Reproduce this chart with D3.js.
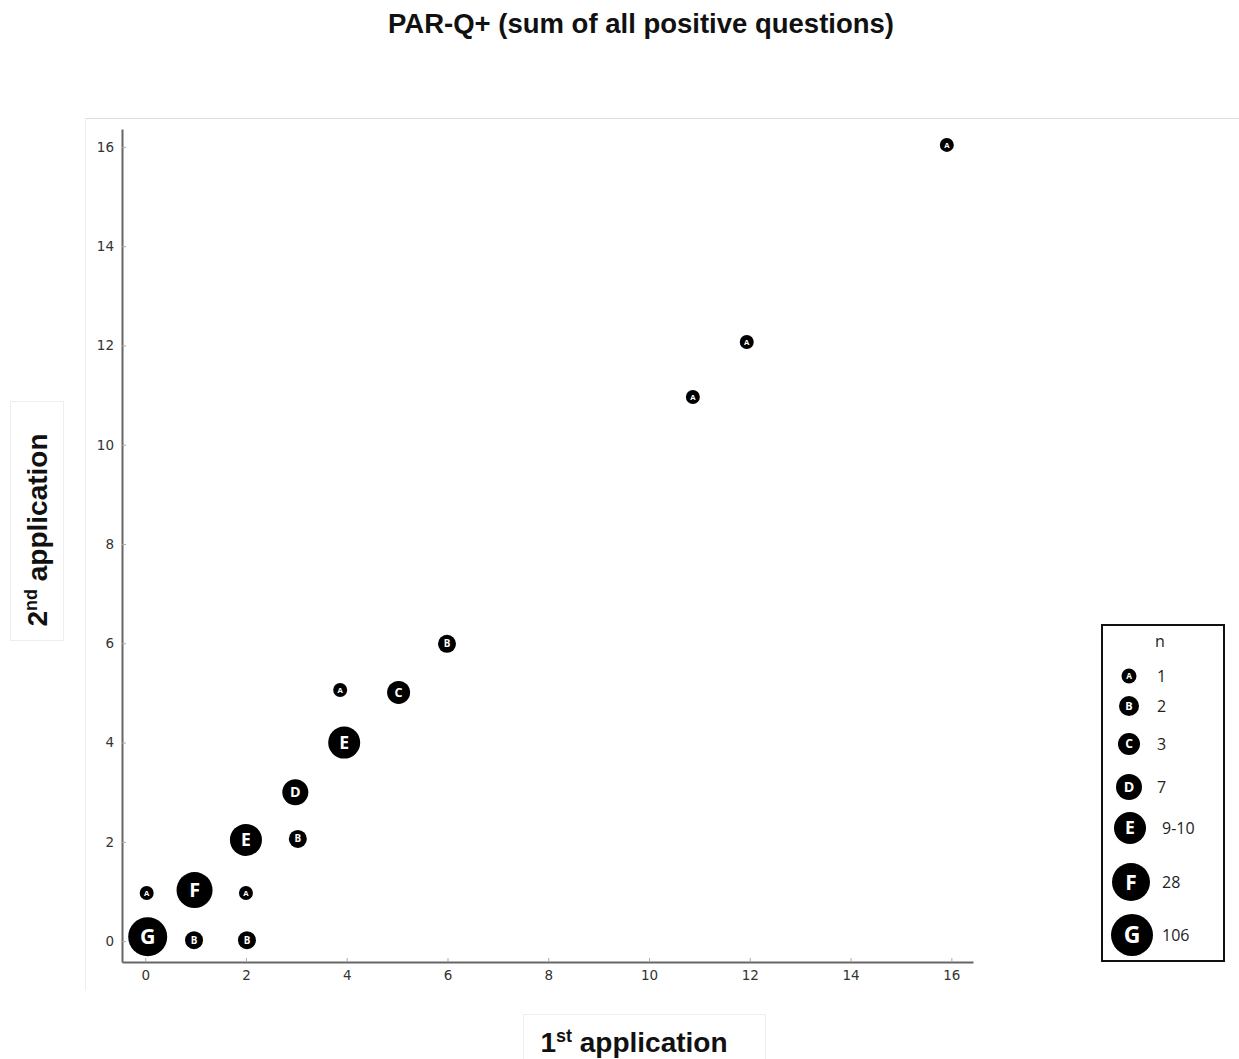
<!DOCTYPE html>
<html><head><meta charset="utf-8">
<script src="https://cdn.jsdelivr.net/npm/d3@7"></script>
<style>html,body{margin:0;padding:0;background:#fff;}</style>
</head><body>
<script>
// ---- data ----
const firstApplication  = [0.05, 0.97, 2.02, 0.03, 0.98, 2.0, 2.0, 3.03, 2.98, 3.95, 3.87, 5.03, 5.99, 10.87, 11.94, 15.91];
const secondApplication = [0.09, 0.02, 0.02, 0.97, 1.03, 0.97, 2.04, 2.06, 3.0, 4.0, 5.06, 5.01, 5.99, 10.96, 12.07, 16.04];
const pointGroups       = ['G','B','B','A','F','A','E','B','D','E','A','C','B','A','A','A'];
const legendGroups = ['A','B','C','D','E','F','G'];
const legendLabels = ['1','2','3','7','9-10','28','106'];
const tickValues = [0,2,4,6,8,10,12,14,16];

const W = 1239, H = 1059;
const svg = d3.select('body').append('svg').attr('width', W).attr('height', H)
  .style('font-family','"Liberation Sans", Arial, sans-serif');

// panel frame
svg.append('line').attr('x1',85).attr('y1',118.5).attr('x2',W).attr('y2',118.5).attr('stroke','#ddd');
svg.append('line').attr('x1',85.5).attr('y1',118).attr('x2',85.5).attr('y2',990).attr('stroke','#eee');

// title
svg.append('text').attr('x',641).attr('y',33).attr('text-anchor','middle')
  .attr('font-size',27.5).attr('font-weight','bold').attr('fill','#111')
  .text('PAR-Q+ (sum of all positive questions)');

// scales
const x = d3.scaleLinear().domain([-0.46, 16.43]).range([122, 973]);
const y = d3.scaleLinear().domain([-0.42, 16.36]).range([962, 129]);
const rPlot = d3.scaleOrdinal().domain(legendGroups).range([7, 9, 11.5, 13, 16, 18, 19.5]);
const rLeg  = d3.scaleOrdinal().domain(legendGroups).range([7.5, 10, 11, 13, 16, 19, 21]);
const fontFor = r => r * 1.1;

// axes
const xAxis = d3.axisBottom(x).tickValues(tickValues).tickSize(-4).tickPadding(8).tickSizeOuter(0);
const yAxis = d3.axisLeft(y).tickValues(tickValues).tickSize(-4).tickPadding(8).tickSizeOuter(0);
const gx = svg.append('g').attr('transform','translate(0,962)').call(xAxis);
const gy = svg.append('g').attr('transform','translate(122,0)').call(yAxis);
[gx, gy].forEach(g => {
  g.select('.domain').attr('stroke','#666').attr('stroke-width',2);
  g.selectAll('.tick line').attr('stroke','#aaa');
  g.selectAll('.tick text').attr('fill','#333').attr('font-size',13.5)
    .attr('font-family','"DejaVu Sans", Verdana, sans-serif');
});

// points
const pts = firstApplication.map((v,i)=>({x:v, y:secondApplication[i], g:pointGroups[i]}));
const pg = svg.append('g');
const node = pg.selectAll('g.pt').data(pts).join('g').attr('class','pt')
  .attr('transform', d => `translate(${x(d.x)},${y(d.y)})`);
node.append('circle').attr('r', d => rPlot(d.g)).attr('fill','#000');
node.append('text').attr('text-anchor','middle').attr('dy','0.36em')
  .attr('fill','#fff').attr('font-weight','bold')
  .attr('font-family','"Open Sans", "DejaVu Sans", sans-serif')
  .attr('font-size', d => fontFor(rPlot(d.g))).text(d => d.g);

// axis titles with boxes
svg.append('rect').attr('x',523.5).attr('y',1014.5).attr('width',242).attr('height',50)
  .attr('fill','#fff').attr('stroke','#eee');
const xt = svg.append('text').attr('x',634).attr('y',1052).attr('text-anchor','middle')
  .attr('font-size',28).attr('font-weight','bold').attr('fill','#111');
xt.append('tspan').text('1');
xt.append('tspan').attr('dy',-10).attr('font-size',18).text('st');
xt.append('tspan').attr('dy',10).text(' application');

svg.append('rect').attr('x',10.5).attr('y',401.5).attr('width',53).attr('height',239)
  .attr('fill','#fff').attr('stroke','#eee');
const yt = svg.append('text').attr('transform','translate(47,530) rotate(-90)').attr('text-anchor','middle')
  .attr('font-size',28).attr('font-weight','bold').attr('fill','#111');
yt.append('tspan').text('2');
yt.append('tspan').attr('dy',-10).attr('font-size',18).text('nd');
yt.append('tspan').attr('dy',10).text(' application');

// legend
svg.append('rect').attr('x',1102).attr('y',625).attr('width',122).attr('height',336)
  .attr('fill','#fff').attr('stroke','#111').attr('stroke-width',2);
svg.append('text').attr('x',1160).attr('y',647).attr('text-anchor','middle')
  .attr('font-size',16).attr('fill','#222').attr('font-family','"Open Sans", sans-serif').text('n');
const legYs = [676, 706, 744, 787, 828, 882, 935];
const legCx = [1129, 1129, 1129, 1129, 1130, 1131, 1132];
const legTx = [1157, 1157, 1157, 1157, 1162, 1162, 1162];
const lg = svg.append('g').selectAll('g').data(legendGroups).join('g')
  .attr('transform', (d,i) => `translate(${legCx[i]},${legYs[i]})`);
lg.append('circle').attr('r', d => rLeg(d)).attr('fill','#000');
lg.append('text').attr('text-anchor','middle').attr('dy','0.36em').attr('fill','#fff')
  .attr('font-weight','bold').attr('font-family','"Open Sans", "DejaVu Sans", sans-serif')
  .attr('font-size', d => fontFor(rLeg(d))).text(d => d);
lg.append('text').attr('x',(d,i)=>legTx[i]-legCx[i]).attr('dy','0.36em')
  .attr('font-size',16).attr('fill','#222').attr('font-family','"Open Sans", sans-serif')
  .text((d,i)=>legendLabels[i]);
</script>
</body></html>
